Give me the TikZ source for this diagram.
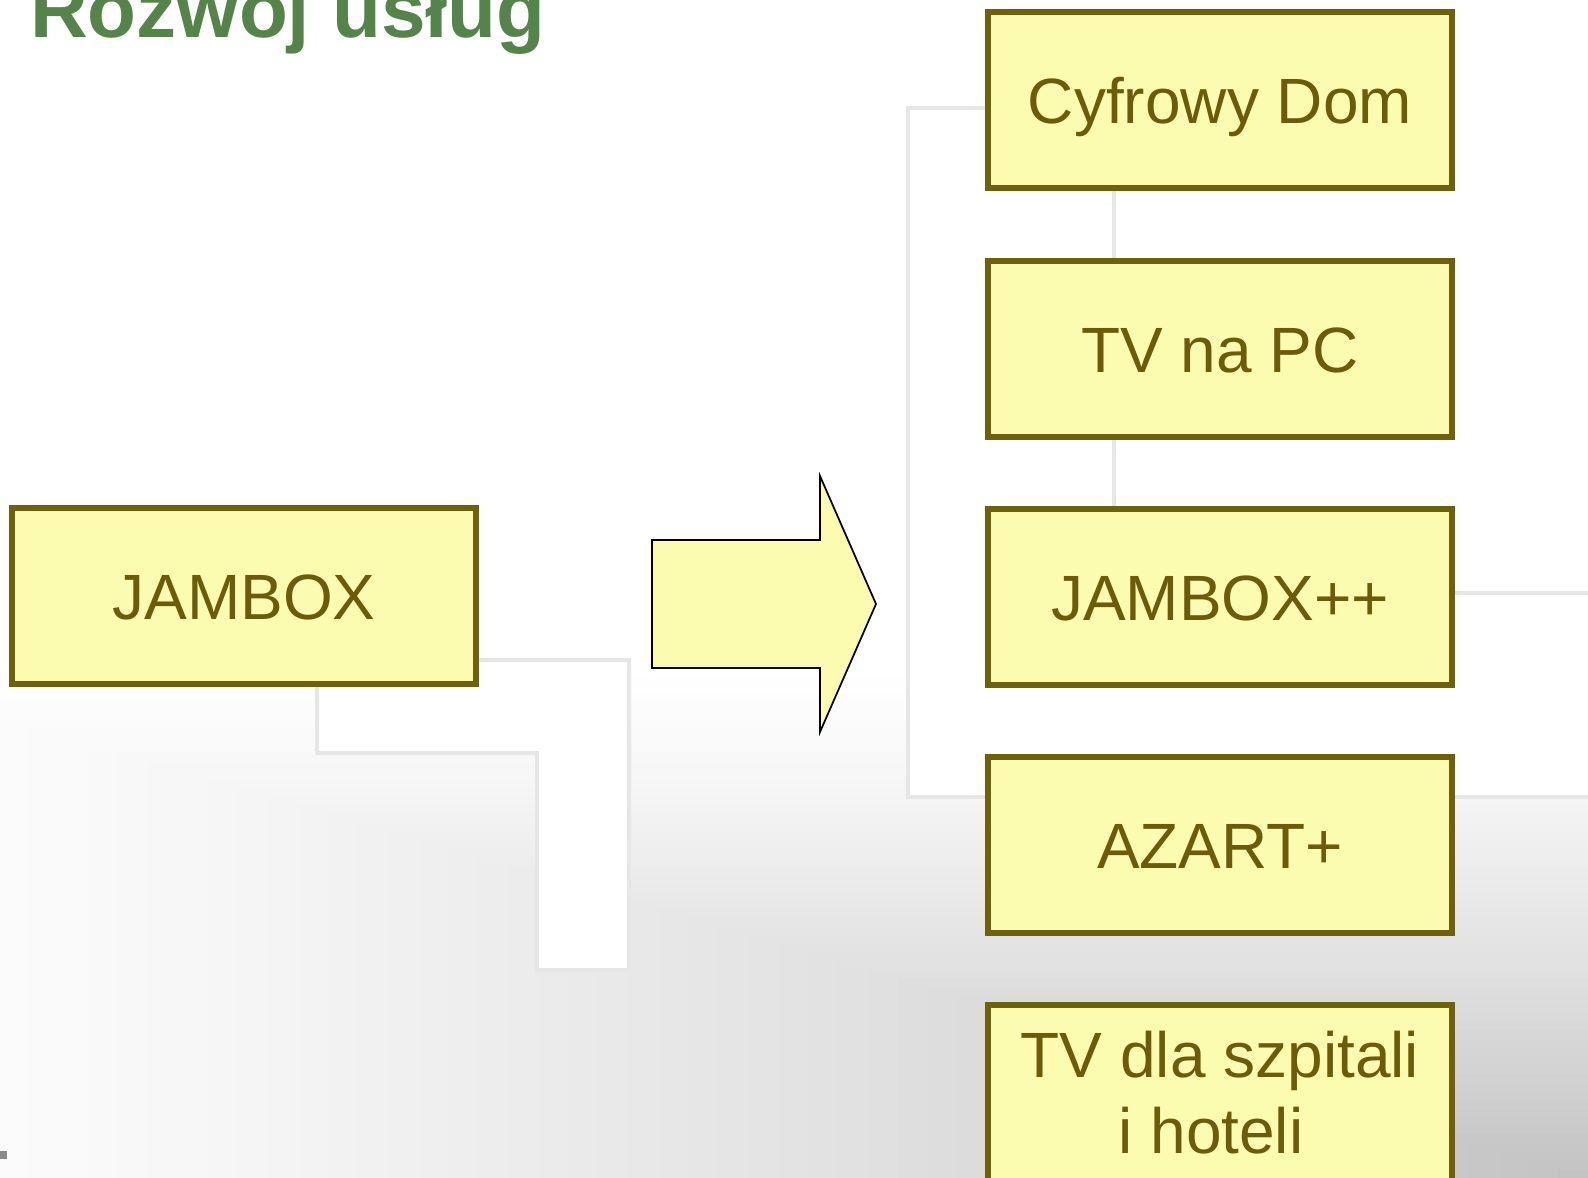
\documentclass[tikz,border=0pt]{standalone}
\usepackage{fontspec}
\setmainfont{Liberation Sans}
\definecolor{boxfill}{RGB}{251,252,176}
\definecolor{boxline}{RGB}{111,96,12}
\definecolor{boxtext}{RGB}{108,92,10}
\definecolor{titlegreen}{RGB}{84,132,73}
\definecolor{decoline}{RGB}{230,230,230}
\definecolor{marker}{RGB}{137,137,137}
\begin{document}
\begin{tikzpicture}[x=1pt,y=-1pt,
  item/.style={draw=boxline, line width=6pt, fill=boxfill, text=boxtext,
    minimum width=464pt, minimum height=176pt, inner sep=0pt,
    font=\fontsize{64}{76}\selectfont, align=center},
  oneline/.style={text height=46pt, text depth=0pt},
  deco/.style={fill=white, draw=decoline, line width=4pt, line join=miter},
  bigarrow/.style={draw=black, line width=1.75pt, fill=boxfill, line join=miter}]
\useasboundingbox (0,0) rectangle (1588,1178);
% background: white with rectangular grey gradient toward bottom-right
\fill[white] (0,0) rectangle (1588,1178);
\begin{scope}
  \clip (0,0) rectangle (1588,1178);
  \foreach \k in {1,...,59} {
    \pgfmathsetmacro\tv{\k/60}
    \pgfmathsetmacro\gv{(194+61*(1-\tv^1.3))/255}
    \pgfmathsetmacro\xl{1588-(1-\tv)*1800}
    \pgfmathsetmacro\yt{1178-(1-\tv)*520}
    \definecolor{bgc}{gray}{\gv}
    \fill[bgc] (\xl,\yt) rectangle (1600,1190);
  }
\end{scope}
% decorative white shapes of the slide template
\draw[deco] (317,640) -- (317,753) -- (537,753) -- (537,970) -- (629,970) -- (629,660) -- (440,660) -- cycle;
\draw[deco] (908,108) -- (1114,108) -- (1114,593) -- (1600,593) -- (1600,797) -- (908,797) -- cycle;
% small marker
\fill[marker] (0,1151) rectangle (7,1159);
% title
\node[anchor=base west, inner sep=0pt, text=titlegreen,
  font=\fontsize{80}{82}\selectfont\bfseries] (title) at (30,37) {Rozwój usług};
% boxes
\node[item, oneline] (jambox) at (244,596) {JAMBOX};
\node[item, oneline] (cyfrowy) at (1220,100) {Cyfrowy Dom};
\node[item, oneline] (tvpc) at (1220,349) {TV na PC};
\node[item, oneline] (jpp) at (1220,597) {JAMBOX++};
\node[item, oneline] (azart) at (1220,845) {AZART+};
\node[item] (szpital) at (1220,1093) {TV dla szpitali\\i hoteli\rule{18pt}{0pt}};
% block arrow
\draw[bigarrow] (652,540) -- (820,540) -- (820,476) -- (876,604) -- (820,732) -- (820,668) -- (652,668) -- cycle;
\end{tikzpicture}
\end{document}
